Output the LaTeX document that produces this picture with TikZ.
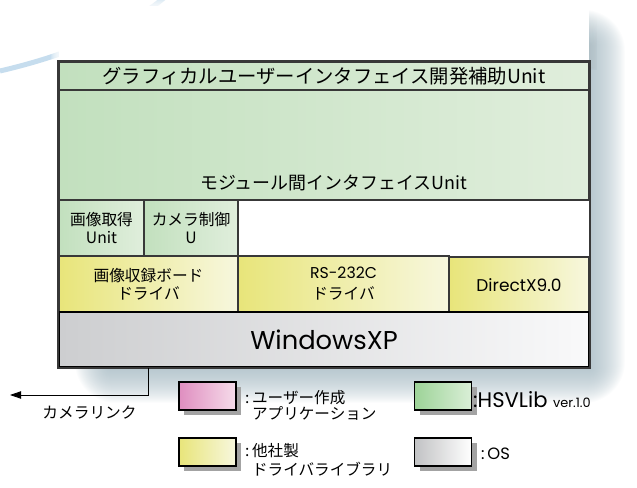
\documentclass[tikz,border=0pt]{standalone}
\usepackage{fontspec}
\setmainfont{Noto Sans CJK JP}
\newfontfamily\latfont{Poppins}
\usetikzlibrary{arrows.meta,shadows}
\definecolor{grnL}{HTML}{C2E0BE}
\definecolor{grnR}{HTML}{E0EEDC}
\definecolor{ylwL}{HTML}{E8E57A}
\definecolor{ylwR}{HTML}{F7F7DE}
\definecolor{osL}{HTML}{CDCED0}
\definecolor{osR}{HTML}{F9F9FA}
\definecolor{pnkL}{HTML}{DF8EC0}
\definecolor{pnkR}{HTML}{F6DCEA}
\definecolor{hsvL}{HTML}{9DD398}
\definecolor{hsvR}{HTML}{DAEFD7}
\definecolor{shadowclr}{HTML}{9DB3BD}
\definecolor{arcblue}{HTML}{C6DDEE}
\definecolor{edge}{HTML}{383838}

\begin{document}
\begin{tikzpicture}
[x=0.03cm,y=-0.03cm,
 every node/.style={inner sep=0pt,align=center,font=\fontsize{13.4}{15.3}\selectfont},
 sz/.style 2 args={minimum width=#1*0.03cm,minimum height=#2*0.03cm},
 blk/.style={draw=edge,line width=1.3pt},
 grn/.style={blk,left color=grnL,right color=grnR},
 ylw/.style={blk,left color=ylwL,right color=ylwR},
 key/.style={draw=black,line width=1.3pt,sz={57}{28},
   drop shadow={shadow xshift=0.15cm,shadow yshift=-0.15cm,fill=black!36,opacity=1}},
 keytxt/.style={anchor=west,align=left,font=\fontsize{13.3}{13.8}\selectfont}]
\useasboundingbox (0,0) rectangle (637,488);
\draw[arcblue,line width=0.15cm] (0,71) .. controls (60,57) and (120,35) .. (165,-3);
\foreach \i in {1,...,8}
  \fill[white,opacity=0.18] (59-\i,6-\i) rectangle (589+\i,62+\i);
\foreach \i in {0,...,35}
  \fill[shadowclr,opacity=0.035,rounded corners=\i pt] (110-\i,45-\i) rectangle (590+\i,368+\i);

\node[fill=white,sz={530}{361}] (back) at (324,186.5) {};
\node[grn,sz={530}{28},font=\fontsize{16.5}{18}\selectfont] (gui) at (324,76) {グラフィカルユーザーインタフェイス開発補助Unit};
\node[grn,sz={530}{110}] (mod) at (324,145) {};
\node[font=\fontsize{15.3}{17}\selectfont] (modtxt) at (333.5,183) {モジュール間インタフェイスUnit};
\node[grn,sz={85}{56}] (acq) at (101.5,228) {画像取得\\Unit};
\node[grn,sz={94}{56}] (cam) at (191,228) {カメラ制御\\U};
\node[ylw,sz={179}{56}] (drv1) at (148.5,284) {画像収録ボード\\ドライバ};
\node[ylw,sz={211}{56},font=\fontsize{13.4}{18}\selectfont] (drv2) at (343.5,284) {{\latfont RS-232C}\\ドライバ};
\node[ylw,sz={140}{56},font=\latfont\fontsize{14.5}{16}\selectfont] (drv3) at (519,285) {DirectX9.0};
\node[blk,draw=black,line width=1.8pt,left color=osL,right color=osR,sz={530}{55},
  font=\latfont\fontsize{22}{26}\selectfont] (os) at (324,339.5) {WindowsXP};
\draw[blk] (gui.north west) rectangle (os.south east);

\coordinate (camend) at (10,395);
\draw[line width=0.7pt,-{Triangle[length=3.3mm,width=2.2mm]}] (drv1.center |- os.south) |- (camend);
\node (camlbl) at (89.5,413) {カメラリンク};

\node[key,left color=pnkL,right color=pnkR] (kusr) at (207.5,396) {};
\node[key,left color=hsvL,right color=hsvR] (khsv) at (443,396) {};
\node[key,left color=ylwL,right color=ylwR] (kdrv) at (207.5,452) {};
\node[key,left color=osL!85!gray,right color=white] (kos) at (443,452) {};
\node[keytxt] (tusr) at (245,405) {:\,ユーザー作成\\\phantom{:\,}アプリケーション};
\node[keytxt,font=\latfont\fontsize{18}{20}\selectfont] (thsv) at (473,400) {:HSVLib {\fontsize{11}{12}\selectfont ver.1.0}};
\node[keytxt,font=\fontsize{13.3}{16}\selectfont] (tdrv) at (245,460) {:\,他社製\\\phantom{:\,}ドライバライブラリ};
\node[keytxt,font=\latfont\fontsize{14}{16}\selectfont] (tos) at (481,454) {:\,OS};
\end{tikzpicture}
\end{document}
